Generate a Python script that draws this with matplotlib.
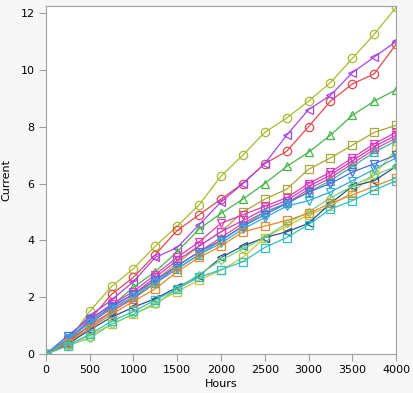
import matplotlib.pyplot as plt

# Horas de medicao
horas = [0, 250, 500, 750, 1000, 1250, 1500, 1750, 2000,
         2250, 2500, 2750, 3000, 3250, 3500, 3750, 4000]

# Corrente de cada unidade
olive_circ = [0, 0.45, 1.5, 2.38, 3.0, 3.8, 4.5, 5.25, 6.26, 7.0, 7.8, 8.3, 8.9, 9.55, 10.4, 11.25, 12.2]
red_circ = [0, 0.4, 1.2, 2.1, 2.7, 3.5, 4.35, 4.9, 5.45, 6.0, 6.7, 7.13, 8.0, 8.9, 9.5, 9.86, 10.9]
purple_ltri = [0, 0.55, 1.35, 1.9, 2.55, 3.4, 3.75, 4.55, 5.35, 6.0, 6.7, 7.7, 8.6, 9.1, 9.9, 10.45, 11.0]
green_tri = [0, 0.4, 1.0, 1.7, 2.35, 2.9, 3.6, 4.4, 4.95, 5.45, 6.0, 6.6, 7.1, 7.7, 8.4, 8.9, 9.3]
olive_sq = [0, 0.35, 0.9, 1.5, 2.0, 2.6, 3.2, 3.8, 4.3, 5.0, 5.45, 5.8, 6.5, 6.9, 7.35, 7.8, 8.05]
magenta_vtri = [0, 0.5, 1.2, 1.75, 2.2, 2.8, 3.4, 3.95, 4.6, 4.9, 5.2, 5.5, 6.0, 6.4, 6.9, 7.4, 7.8]
magenta_sq = [0, 0.5, 1.15, 1.65, 2.1, 2.7, 3.3, 3.8, 4.3, 4.7, 5.1, 5.4, 5.9, 6.3, 6.8, 7.3, 7.7]
pink_tri = [0, 0.45, 1.0, 1.5, 1.95, 2.5, 3.1, 3.6, 4.1, 4.6, 5.0, 5.3, 5.8, 6.2, 6.7, 7.2, 7.6]
teal_tri = [0, 0.5, 1.1, 1.6, 2.0, 2.5, 3.0, 3.5, 4.0, 4.5, 5.0, 5.3, 5.7, 6.1, 6.6, 7.1, 7.5]
yellow_sq = [0, 0.3, 0.65, 1.05, 1.4, 1.8, 2.2, 2.6, 2.95, 3.4, 4.1, 4.5, 4.9, 5.2, 5.7, 6.3, 7.2]
blue_vtri = [0, 0.65, 1.25, 1.7, 2.1, 2.6, 3.1, 3.6, 4.0, 4.5, 4.9, 5.3, 5.7, 6.0, 6.4, 6.7, 7.0]
cyan_vtri = [0, 0.55, 1.1, 1.6, 2.0, 2.5, 3.0, 3.5, 3.9, 4.4, 4.8, 5.2, 5.4, 5.7, 6.1, 6.5, 6.9]
navy_ltri = [0, 0.35, 0.85, 1.3, 1.65, 1.95, 2.35, 2.75, 3.4, 3.8, 4.1, 4.3, 4.6, 5.3, 5.9, 6.1, 6.6]
green_diam = [0, 0.3, 0.56, 1.05, 1.4, 1.75, 2.3, 2.8, 3.3, 3.7, 4.1, 4.6, 5.0, 5.5, 5.9, 6.3, 6.6]
orange_sq = [0, 0.4, 0.9, 1.4, 1.85, 2.3, 2.9, 3.4, 3.8, 4.3, 4.5, 4.7, 4.95, 5.3, 5.6, 5.9, 6.2]
teal_sq = [0, 0.3, 0.7, 1.15, 1.5, 1.9, 2.3, 2.7, 2.97, 3.25, 3.75, 4.1, 4.55, 5.1, 5.4, 5.77, 6.1]

series = [
    (olive_circ, "#A9BA2E", "o"),
    (red_circ, "#E5484D", "o"),
    (purple_ltri, "#A943E8", "<"),
    (green_tri, "#45B548", "^"),
    (olive_sq, "#A7A838", "s"),
    (magenta_vtri, "#E23BB6", "v"),
    (magenta_sq, "#CC3CCC", "s"),
    (pink_tri, "#E8489A", "^"),
    (teal_tri, "#2DB6A5", "^"),
    (yellow_sq, "#D1C12E", "s"),
    (blue_vtri, "#4A70E0", "v"),
    (cyan_vtri, "#30A9DC", "v"),
    (navy_ltri, "#2B4F8C", "<"),
    (green_diam, "#6FD47F", "D"),
    (orange_sq, "#E38A2C", "s"),
    (teal_sq, "#2EC0C4", "s"),
]

fig = plt.figure(figsize=(4.13, 3.93), dpi=100, facecolor="#F7F7F7")
ax = fig.add_axes([0.111, 0.099, 0.848, 0.886])
ax.set_facecolor("white")

for valores, cor, marcador in series:
    ms = 4.5 if marcador == "D" else 6
    ax.plot(horas, valores, color=cor, linewidth=0.9, marker=marcador,
            markersize=ms, markerfacecolor="none", markeredgecolor=cor,
            markeredgewidth=0.9)

ax.set_xlim(0, 4000)
ax.set_ylim(0, 12.25)
ax.set_xticks(range(0, 4001, 500))
ax.set_yticks(range(0, 13, 2))

for s in ax.spines.values():
    s.set_color("#A0A0A0")
ax.tick_params(colors="#A0A0A0", labelcolor="black", labelsize=8, length=5, pad=3)
ax.set_xlabel("Hours", fontsize=8, labelpad=3)
ax.set_ylabel("Current", fontsize=8, labelpad=7)

fig.savefig("out.png", dpi=100, facecolor=fig.get_facecolor())
